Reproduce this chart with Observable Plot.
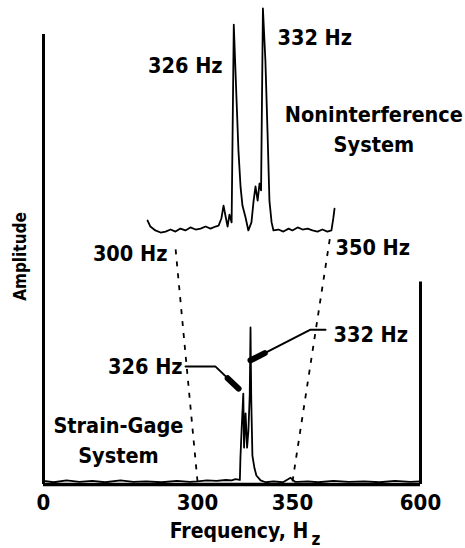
<!DOCTYPE html>
<html><head><meta charset="utf-8">
<script src="https://cdn.jsdelivr.net/npm/d3@7"></script>
<script src="https://cdn.jsdelivr.net/npm/@observablehq/plot@0.6"></script>
<style>
html,body{margin:0;padding:0;background:#fff;}
#chart{position:relative;width:465px;height:548px;overflow:hidden;background:#fff;}
#chart svg{position:absolute;left:0;top:0;}
</style></head><body><div id="chart"></div>
<script>
const FONT = "'DejaVu Sans Condensed', 'DejaVu Sans', sans-serif";

// Strain-gage system spectrum (main axes, Hz vs relative amplitude)
const sgFreq = [0, 20, 45, 70, 95, 120, 150, 175, 200, 230, 260, 285, 300, 305, 310, 315, 318, 320, 321.5, 322.3, 322.6, 323.2, 324.1, 324.5, 325.3, 326.1, 326.8, 327.5, 327.9, 328.3, 328.9, 330, 331, 333.2, 335.8, 340, 345, 349, 350.5, 355, 360, 380, 400, 430, 460, 490, 520, 550, 580, 600];
const sgAmp  = [0.8, 0.5, 0.9, 0.6, 0.8, 0.5, 0.9, 0.6, 0.7, 0.5, 0.8, 0.6, 0.7, 0.9, 0.8, 1.0, 0.9, 1.2, 1.1, 1.0, 6, 12, 20.2, 8.2, 15.8, 8.2, 12, 20, 34.9, 18.7, 6.4, 3.6, 2.0, 0.9, 0.5, 0.7, 0.5, 1.5, 1.0, 0.6, 0.6, 0.7, 0.5, 0.8, 0.6, 0.7, 0.5, 0.8, 0.6, 0.7];

// Noninterference system spectrum (expanded 300-350 Hz view)
const niFreq = [291.0, 291.9, 293.5, 295.2, 296.8, 298.4, 300, 301.6, 303.2, 304.8, 306.5, 308.1, 309.7, 311.3, 312.9, 313.9, 314.8, 315.5, 316.1, 316.8, 317.4, 318.1, 318.8, 319.7, 320.3, 321.0, 321.6, 322.6, 323.5, 324.5, 325.2, 325.8, 326.5, 327.1, 327.6, 328.2, 329.0, 329.7, 330.3, 331.0, 331.6, 333.2, 334.8, 336.5, 337.7, 339.4, 341.0, 342.6, 344.2, 345.8, 347.4, 349.0, 350.3, 350.9, 351.3];
const niAmp  = [6.5, 3.9, 2.2, 1.3, 1.7, 2.6, 1.7, 3.0, 2.2, 3.5, 2.6, 3.0, 3.9, 3.0, 3.9, 4.3, 7.4, 13.0, 8.7, 3.9, 9.1, 5.7, 91.7, 58.7, 37, 20.9, 13, 7.8, 2.2, 5.7, 15.2, 21.3, 15.2, 22.6, 19.6, 98.7, 76.1, 44.3, 15.2, 5.7, 2.2, 2.6, 1.7, 3.0, 2.2, 3.5, 2.6, 3.0, 2.2, 1.7, 2.6, 1.7, 2.2, 7.4, 11.7];

const xTicks = [0, 300, 350, 600];
const zoomEdges = [300, 350];
const zoomEdgeTopAmp = [-5.5, 0.5];

// Annotations (main axes)
const lead326 = [[276.7, 26.2], [309.5, 26.2], [321.6, 21.3]];
const head326 = [[315.9, 23.6], [321.6, 21.3]];
const lead332 = [[414.5, 34.4], [385.2, 34.4], [327.9, 27.6]];
const head332 = [[335.4, 29.2], [327.9, 27.6]];
const mainLabels = [
  {text: "326 Hz", f: 271, a: 26.7, anchor: "end"},
  {text: "332 Hz", f: 430, a: 33.8, anchor: "start"},
  {text: "Strain-Gage\nSystem", f: 146, a: 10.2, anchor: "middle"}
];
const insetLabels = [
  {text: "326 Hz", f: 315.2, a: 74.8, anchor: "end"},
  {text: "332 Hz", f: 332.9, a: 87, anchor: "start"},
  {text: "300 Hz", f: 297.4, a: -7, anchor: "end"},
  {text: "350 Hz", f: 351.6, a: -4.3, anchor: "start"},
  {text: "Noninterference\nSystem", f: 364, a: 47, anchor: "middle"}
];

// broken frequency axis: 0-300, 300-350 (expanded), 350-600
const axisBreaks = [0, 300, 350, 600];
const axisStretch = [0, 154, 249, 377];
const warp = d3.scaleLinear().domain(axisBreaks).range(axisStretch);

const mainX = {type: "linear", domain: [0, 377], range: [43, 420], transform: d => warp(d), axis: null};
const mainY = {domain: [0, 100], range: [484, 34], axis: null};
const insetX = {domain: [300, 350], range: [175, 330], axis: null};
const insetY = {domain: [0, 100], range: [235, 5], axis: null};

// map the inset's 300/350 Hz edge points into main-axis coordinates
const ix = Plot.scale({x: insetX}), iy = Plot.scale({y: insetY});
const mxPix = d3.scaleLinear().domain(mainX.domain).range(mainX.range);
const myPix = d3.scaleLinear().domain(mainY.domain).range(mainY.range);
const connectors = zoomEdges.map((f, i) => ({
  x1: f, y1: 0.7,
  x2: warp.invert(mxPix.invert(ix.apply(f))), y2: myPix.invert(iy.apply(zoomEdgeTopAmp[i]))
}));

const sg = sgFreq.map((f, i) => ({f, a: sgAmp[i]}));
const ni = niFreq.map((f, i) => ({f, a: niAmp[i]}));
const txt = {fill: "#000", fontFamily: FONT, fontWeight: "bold"};
const labelMarks = (arr) => ["start", "middle", "end"].map(anc =>
  Plot.text(arr.filter(d => d.anchor === anc), {x: "f", y: "a", text: "text", textAnchor: anc, fontSize: 21.5, lineHeight: 1.38, ...txt}));

const main = Plot.plot({
  width: 465, height: 548,
  marginLeft: 43, marginRight: 45, marginTop: 34, marginBottom: 64,
  style: {background: "transparent", overflow: "visible", color: "#000"},
  x: mainX, y: mainY,
  marks: [
    Plot.link(connectors, {x1: "x1", y1: "y1", x2: "x2", y2: "y2", stroke: "#000", strokeWidth: 1.8, strokeDasharray: "5,7"}),
    Plot.line(sg, {x: "f", y: "a", stroke: "#000", strokeWidth: 1.8}),
    Plot.ruleY([0], {x1: 0, x2: 600, stroke: "#000", strokeWidth: 3.5}),
    Plot.ruleX([0], {y1: 0, y2: 100, stroke: "#000", strokeWidth: 3}),
    Plot.ruleX([600], {y1: 0, y2: 45, stroke: "#000", strokeWidth: 3}),
    Plot.line(lead326, {x: d => d[0], y: d => d[1], stroke: "#000", strokeWidth: 2}),
    Plot.line(lead332, {x: d => d[0], y: d => d[1], stroke: "#000", strokeWidth: 2}),
    Plot.link([head326, head332], {x1: d => d[0][0], y1: d => d[0][1], x2: d => d[1][0], y2: d => d[1][1], stroke: "#000", strokeWidth: 6, strokeLinecap: "round"}),
    Plot.axisX(xTicks, {tickSize: 0, tickPadding: 10, fontSize: 22, fontWeight: "bold", fontFamily: FONT, label: null, tickFormat: d => String(d)}),
    Plot.text(["Frequency, H"], {frameAnchor: "bottom", textAnchor: "middle", lineAnchor: "bottom", dx: 7, dy: 53, fontSize: 21, ...txt}),
    Plot.text(["z"], {frameAnchor: "bottom", textAnchor: "middle", lineAnchor: "bottom", dx: 84, dy: 60, fontSize: 17, ...txt}),
    Plot.text(["Amplitude"], {frameAnchor: "left", rotate: -90, textAnchor: "middle", dx: -23, dy: -3, fontSize: 17, ...txt}),
    ...labelMarks(mainLabels)
  ]
});

const inset = Plot.plot({
  width: 465, height: 548,
  margin: 0,
  style: {background: "transparent", overflow: "visible", color: "#000"},
  x: insetX, y: insetY,
  marks: [
    Plot.line(ni, {x: "f", y: "a", stroke: "#000", strokeWidth: 1.8}),
    ...labelMarks(insetLabels)
  ]
});

const host = document.getElementById("chart");
host.appendChild(main);
host.appendChild(inset);
</script>
</body></html>
